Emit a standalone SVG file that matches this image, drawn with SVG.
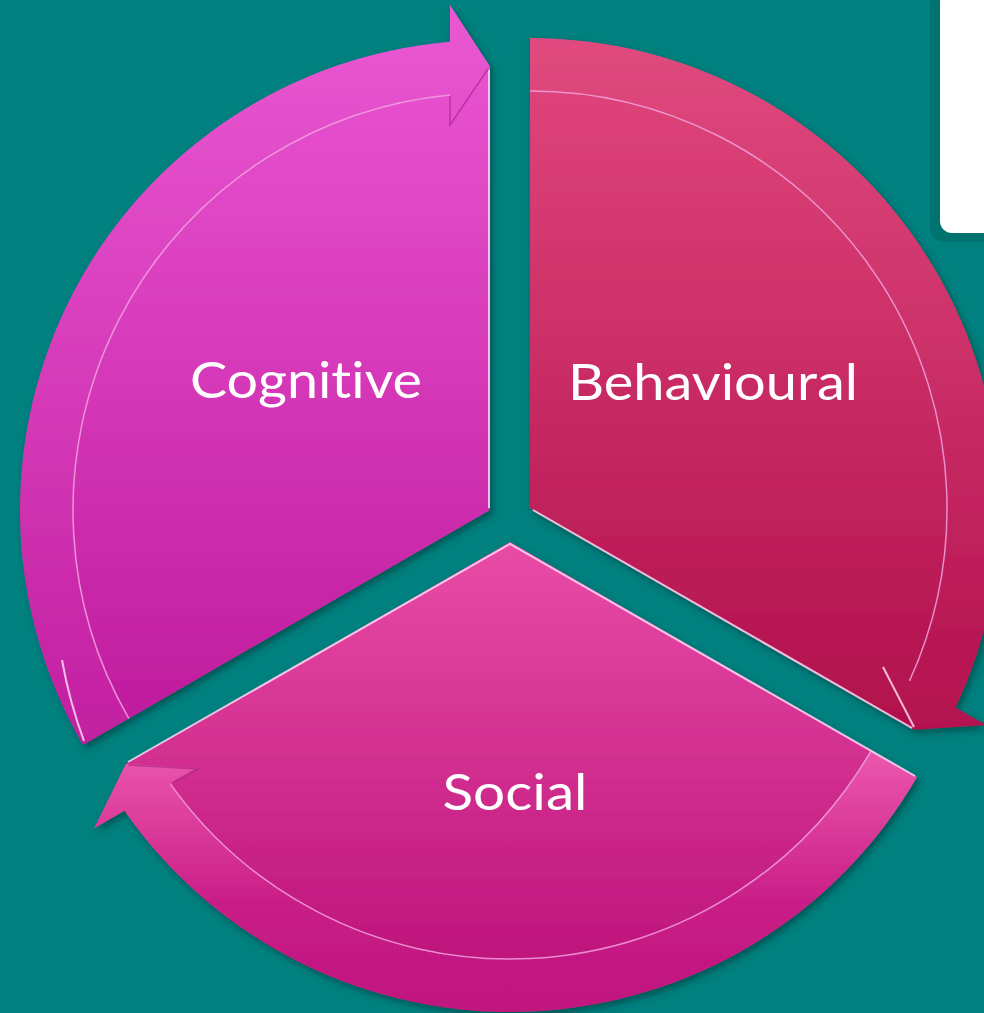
<svg xmlns="http://www.w3.org/2000/svg" width="984" height="1013" viewBox="0 0 984 1013">
<defs>
<linearGradient id="gCog" x1="0" y1="0" x2="0" y2="1"><stop offset="0" stop-color="#E852D0"/><stop offset="1" stop-color="#C01C9E"/></linearGradient>
<linearGradient id="gCogB" x1="0" y1="0" x2="0" y2="1"><stop offset="0" stop-color="#EA58D3"/><stop offset="1" stop-color="#C21FA0"/></linearGradient>
<linearGradient id="gBeh" x1="0" y1="0" x2="0" y2="1"><stop offset="0" stop-color="#DD4378"/><stop offset="1" stop-color="#B0104C"/></linearGradient>
<linearGradient id="gBehB" x1="0" y1="0" x2="0" y2="1"><stop offset="0" stop-color="#E04A7E"/><stop offset="1" stop-color="#B3114E"/></linearGradient>
<linearGradient id="gSoc" x1="0" y1="0" x2="0" y2="1"><stop offset="0" stop-color="#E84CA6"/><stop offset="1" stop-color="#BE157C"/></linearGradient>
<linearGradient id="gSocB" x1="0" y1="0" x2="0" y2="1"><stop offset="0" stop-color="#EC58AE"/><stop offset="0.6" stop-color="#C81C86"/><stop offset="1" stop-color="#C0167E"/></linearGradient>
<filter id="sh" x="-10%" y="-10%" width="120%" height="120%"><feDropShadow dx="3" dy="4" stdDeviation="3" flood-color="#003838" flood-opacity="0.55"/></filter>
</defs>
<style>
.lbl{font-family:"Lato","Noto Sans","DejaVu Sans",sans-serif;font-size:50px;fill:#FFFFFF;text-anchor:middle;font-variant-ligatures:none;font-feature-settings:"liga" 0,"clig" 0}
.hl{fill:none;stroke:#FFD8F4;stroke-width:2;opacity:0.85}
.ln{fill:none;stroke:#F7A8E6;stroke-width:1.5;opacity:0.8}
.hd{fill:none;stroke:#8A1070;stroke-width:1.5;opacity:0.45}
</style>
<rect x="0" y="0" width="984" height="1013" fill="#00807E"/>
<g id="panel">
<rect x="930" y="-10" width="70" height="252" rx="14" fill="#006B69" opacity="0.6"/>
<rect x="940" y="-10" width="60" height="243" rx="12" fill="#FFFFFF"/>
</g>
<g id="cognitive" filter="url(#sh)">
<path d="M490 510 L490 66.5 L450 94.9 A417 417 0 0 0 128.87 718.5 Z" fill="url(#gCog)"/>
<path d="M82.97 745 A470 470 0 0 1 450 41.7 L450 5 L490 66.5 L450 125 L450 94.9 A417 417 0 0 0 128.87 718.5 Z" fill="url(#gCogB)"/>
<path class="ln" d="M450 94.9 A417 417 0 0 0 128.87 718.5"/>
<path class="hd" d="M450 96 L450 125 L488 69"/>
<path class="hl" d="M489 70 L489 508"/>
<path class="hl" d="M84 741 A468 468 0 0 1 62 660" opacity="0.6"/>
<text class="lbl" x="306" y="398" textLength="232" lengthAdjust="spacingAndGlyphs">Cognitive</text>
</g>
<g id="behavioural" filter="url(#sh)">
<path d="M530 508 L530 91 A417 417 0 0 1 909.47 680.9 L914.08 729.75 Z" fill="url(#gBeh)"/>
<path d="M530 38 A470 470 0 0 1 955.56 707.51 L986.04 725.11 L914.08 729.75 L882.12 665.11 L909.47 680.9 A417 417 0 0 0 530 91 Z" fill="url(#gBehB)"/>
<path class="ln" d="M909.47 680.9 A417 417 0 0 0 530 91" stroke="#F58BB0"/>
<path class="hl" d="M533 510 L912 728" stroke="#FFFFFF" stroke-width="3"/>
<path class="hl" d="M883 667 L914 727" stroke="#FFFFFF"/>
<text class="lbl" x="713" y="400" textLength="290" lengthAdjust="spacingAndGlyphs">Behavioural</text>
</g>
<g id="social" filter="url(#sh)">
<path d="M510 542 L871.13 750.5 A417 417 0 0 1 170.53 784.18 L125.92 763.75 Z" fill="url(#gSoc)"/>
<path d="M917.03 777 A470 470 0 0 1 124.44 810.79 L93.96 828.39 L125.92 763.75 L197.88 768.39 L170.53 784.18 A417 417 0 0 0 871.13 750.5 Z" fill="url(#gSocB)"/>
<path class="ln" d="M170.53 784.18 A417 417 0 0 0 871.13 750.5" stroke="#F27CC4"/>
<path class="hd" d="M128 765 L197 769 L172 783"/>
<path class="hl" d="M128 762 L510 544 L915 776" stroke="#F596D0"/>
<text class="lbl" x="515" y="810" textLength="145" lengthAdjust="spacingAndGlyphs">Social</text>
</g>
</svg>
